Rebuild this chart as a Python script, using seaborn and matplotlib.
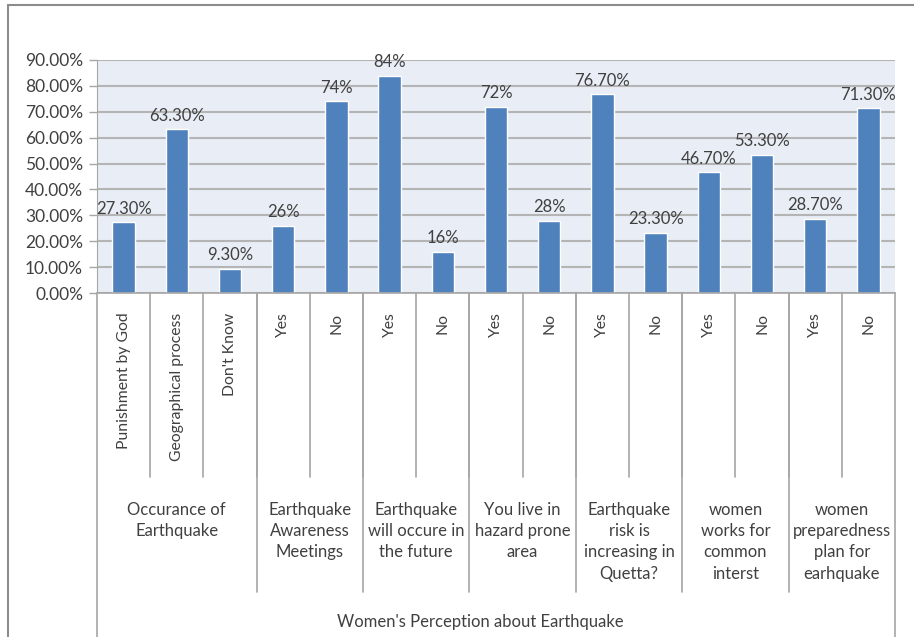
import pandas as pd
import matplotlib.pyplot as plt
import seaborn as sns
from matplotlib.lines import Line2D

sub_labels = ["Punishment by God", "Geographical process", "Don't Know",
              "Yes", "No", "Yes", "No", "Yes", "No", "Yes", "No", "Yes", "No", "Yes", "No"]
values = [27.3, 63.3, 9.3, 26, 74, 84, 16, 72, 28, 76.7, 23.3, 46.7, 53.3, 28.7, 71.3]
value_labels = ["27.30%", "63.30%", "9.30%", "26%", "74%", "84%", "16%", "72%", "28%",
                "76.70%", "23.30%", "46.70%", "53.30%", "28.70%", "71.30%"]
groups = ["Occurance of\nEarthquake", "Earthquake\nAwareness\nMeetings",
          "Earthquake\nwill occure in\nthe future", "You live in\nhazard prone\narea",
          "Earthquake\nrisk is\nincreasing in\nQuetta?", "women\nworks for\ncommon\ninterst",
          "women\npreparedness\nplan for\nearhquake"]
group_sizes = [3, 2, 2, 2, 2, 2, 2]
outer_label = "Women's Perception about Earthquake"

sns.set_style("white")
plt.rcParams["font.family"] = ["Lato", "DejaVu Sans"]
txt = "#404040"
line_c = "#a6a6a6"

df = pd.DataFrame({"key": [f"{i}" for i in range(len(values))], "value": values})

fig = plt.figure(figsize=(9.14, 6.37), dpi=100)
ax = fig.add_axes([97 / 914, 1 - 293 / 637, (895 - 97) / 914, (293 - 60) / 637])
ax.set_facecolor("#e9eef6")
sns.barplot(data=df, x="key", y="value", color="#4f81bd", width=0.42, ax=ax, saturation=1)

ax.set_ylim(0, 90)
ax.set_xlim(-0.5, len(values) - 0.5)
ax.set_yticks(range(0, 91, 10))
ax.set_yticklabels([f"{v:.2f}%" for v in range(0, 91, 10)], fontsize=12.5, color=txt)
ax.yaxis.grid(True, color="#b4b4b4", linewidth=1.5)
ax.set_axisbelow(True)
ax.tick_params(axis="y", length=6, width=1, color=line_c, pad=4, left=True)
ax.set_xticks([])
ax.set_xlabel("")
ax.set_ylabel("")
for s in ["top", "right"]:
    ax.spines[s].set_visible(False)
ax.spines["left"].set_color(line_c)
ax.spines["bottom"].set_color(line_c)
ax.spines["bottom"].set_linewidth(1.2)

for i, (v, lab) in enumerate(zip(values, value_labels)):
    ax.annotate(lab, (i, v), xytext=(0, 4), textcoords="offset points",
                ha="center", va="bottom", fontsize=12, color=txt)

trans = ax.get_xaxis_transform()
for i, lab in enumerate(sub_labels):
    ax.text(i, -0.085, lab, rotation=90, ha="center", va="top", fontsize=11.3,
            color=txt, transform=trans)

# separators of the multi-level axis
n = len(values)
for b in range(1, n):
    ax.plot([b - 0.5, b - 0.5], [0, -0.79], color=line_c, lw=1.2, transform=trans, clip_on=False)
start = 0
for g, size in zip(groups, group_sizes):
    if start > 0:
        ax.plot([start - 0.5, start - 0.5], [0, -1.283], color=line_c, lw=1.2, transform=trans, clip_on=False)
    ax.text(start + (size - 1) / 2, -0.895, g, ha="center", va="top", fontsize=12,
            color=txt, linespacing=1.42, transform=trans)
    start += size
for edge in [-0.5, n - 0.5]:
    ax.plot([edge, edge], [0, -1.5], color=line_c, lw=1.2, transform=trans, clip_on=False)
ax.text((n - 1) / 2 - 0.3, -1.41, outer_label, ha="center", va="center", fontsize=12,
        color=txt, transform=trans)

# chart area border
fig.add_artist(Line2D([8 / 914, 1], [1 - 5 / 637, 1 - 5 / 637], color="#8c8c8c", lw=1.5))
fig.add_artist(Line2D([8 / 914, 8 / 914], [0, 1 - 5 / 637], color="#8c8c8c", lw=1.5))

fig.savefig("out.png", dpi=100)
